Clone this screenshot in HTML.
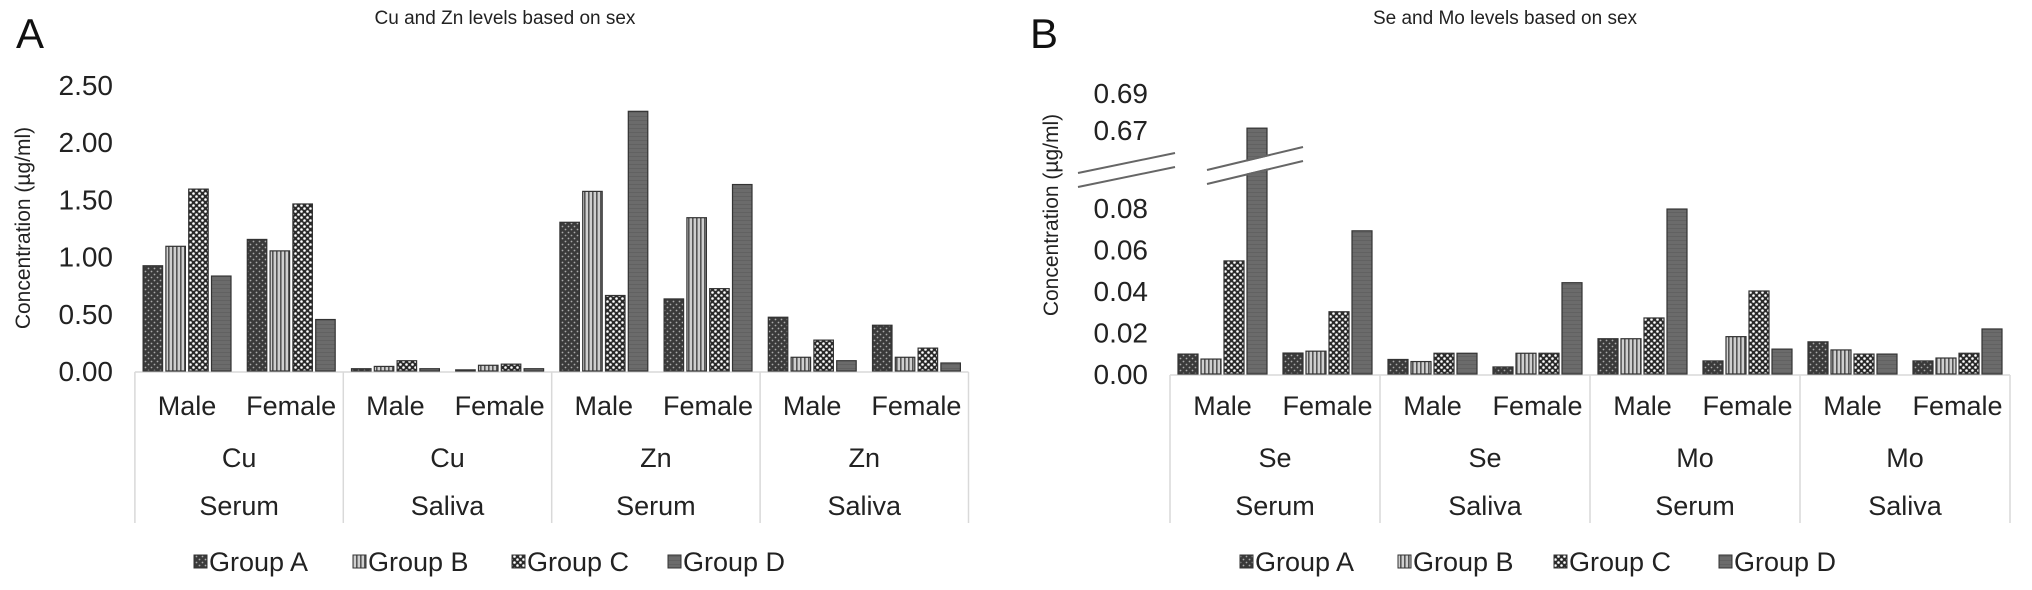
<!DOCTYPE html>
<html><head><meta charset="utf-8"><style>
html,body{margin:0;padding:0;background:#fff;}
svg{display:block;font-family:"Liberation Sans",Arial,sans-serif;}
</style></head><body>
<svg id="chart" width="2032" height="590" viewBox="0 0 2032 590" xmlns="http://www.w3.org/2000/svg">
<defs>
<pattern id="pA" width="6" height="6" patternUnits="userSpaceOnUse"><rect width="6" height="6" fill="#3a3a3a"/><circle cx="1.5" cy="1.5" r="0.9" fill="#aaa"/><circle cx="4.5" cy="4.5" r="0.9" fill="#aaa"/></pattern>
<pattern id="pB" width="4" height="4" patternUnits="userSpaceOnUse"><rect width="4" height="4" fill="#cfcfcf"/><rect width="1.6" height="4" fill="#555"/></pattern>
<pattern id="pC" width="6" height="6" patternUnits="userSpaceOnUse"><rect width="6" height="6" fill="#2a2a2a"/><circle cx="1.5" cy="1.5" r="1.3" fill="#fff"/><circle cx="4.5" cy="4.5" r="1.3" fill="#fff"/></pattern>
<pattern id="pD" width="4" height="4" patternUnits="userSpaceOnUse"><rect width="4" height="4" fill="#6b6b6b"/><rect width="4" height="0.6" fill="#5a5a5a"/></pattern>
</defs>
<g id="root"></g>
</svg>
<script>
// Panel A data
const groupsA = ["Group A","Group B","Group C","Group D"];
const sexA = ["Male","Female","Male","Female","Male","Female","Male","Female"];
const elemA = ["Cu","Cu","Zn","Zn"];
const fluidA = ["Serum","Saliva","Serum","Saliva"];
const ticksA = ["0.00","0.50","1.00","1.50","2.00","2.50"];
const tickValsA = [0,0.5,1,1.5,2,2.5];
const seriesA_A = [0.92,1.15,0.02,0.01,1.30,0.63,0.47,0.40];
const seriesA_B = [1.09,1.05,0.04,0.05,1.57,1.34,0.12,0.12];
const seriesA_C = [1.59,1.46,0.09,0.06,0.66,0.72,0.27,0.20];
const seriesA_D = [0.83,0.45,0.02,0.02,2.27,1.63,0.09,0.07];
// Panel B data
const sexB = ["Male","Female","Male","Female","Male","Female","Male","Female"];
const elemB = ["Se","Se","Mo","Mo"];
const fluidB = ["Serum","Saliva","Serum","Saliva"];
const ticksBLow = ["0.00","0.02","0.04","0.06","0.08"];
const tickValsBLow = [0,0.02,0.04,0.06,0.08];
const ticksBHigh = ["0.67","0.69"];
const tickValsBHigh = [0.67,0.69];
const seriesB_A = [0.0096,0.0101,0.007,0.0034,0.017,0.0063,0.0155,0.0063];
const seriesB_B = [0.0072,0.011,0.006,0.010,0.017,0.018,0.0116,0.0077];
const seriesB_C = [0.0545,0.030,0.010,0.010,0.027,0.040,0.0096,0.010];
const seriesB_D = [0.671,0.069,0.010,0.044,0.0795,0.012,0.0096,0.0217];

const NS="http://www.w3.org/2000/svg";
const root=document.getElementById('root');
function mk(tag,attrs,parent,text){const e=document.createElementNS(NS,tag);for(const k in attrs)e.setAttribute(k,attrs[k]);if(text!==undefined)e.textContent=text;(parent||root).appendChild(e);return e;}
const fills=["url(#pA)","url(#pB)","url(#pC)","url(#pD)"];
const FT=28, FL=27;

// ---------- Panel A ----------
const yA=v=>371-v*114.4;
const xA=i=>187+i*104.2;
const gA=mk('g',{});


let t=mk('text',{x:16,y:48,'font-size':42,fill:'#111'},gA,'A');

t=mk('text',{x:505,y:24,'font-size':19,'text-anchor':'middle',fill:'#222'},gA,'Cu and Zn levels based on sex');

t=mk('text',{x:0,y:0,'font-size':21,'text-anchor':'middle',fill:'#222',transform:'translate(30,228) rotate(-90)'},gA,'Concentration (µg/ml)');

tickValsA.forEach((v,i)=>{const e=mk('text',{x:113,y:yA(v)+10,'font-size':FT,'text-anchor':'end',fill:'#222'},gA,ticksA[i]);
});
const leftA=xA(0)-52.1, rightA=xA(7)+52.1;
mk('line',{x1:leftA,y1:372,x2:rightA,y2:372,stroke:'#d9d9d9','stroke-width':1.5},gA);
for(let k=0;k<=4;k++){const x=leftA+k*208.4;mk('line',{x1:x,y1:372,x2:x,y2:523,stroke:'#d9d9d9','stroke-width':1.5},gA);}
sexA.forEach((s,i)=>{const e=mk('text',{x:xA(i),y:415,'font-size':FL,'text-anchor':'middle',fill:'#222'},gA,s);});
elemA.forEach((s,k)=>{const e=mk('text',{x:leftA+104.2+k*208.4,y:467,'font-size':FL,'text-anchor':'middle',fill:'#222'},gA,s);});
fluidA.forEach((s,k)=>{const e=mk('text',{x:leftA+104.2+k*208.4,y:515,'font-size':FL,'text-anchor':'middle',fill:'#222'},gA,s);});
[seriesA_A,seriesA_B,seriesA_C,seriesA_D].forEach((ser,g)=>{ser.forEach((v,i)=>{
 const x=xA(i)+(g-1.5)*22.8-9.7;const y=yA(v);
 const r=mk('rect',{x:x,y:y,width:19.5,height:Math.max(371-y,1),fill:fills[g],stroke:'#333','stroke-width':1.2},gA);
 
 });});
const legAX=[194,353,512,668];
groupsA.forEach((gname,g)=>{const lg=mk('g',{},gA);
 
 
 mk('rect',{x:legAX[g],y:555,width:13,height:13,fill:fills[g],stroke:'#333','stroke-width':1},lg);
 mk('text',{x:legAX[g]+15,y:571,'font-size':FL,fill:'#222'},lg,gname);});

// ---------- Panel B ----------
const yB=v=>v<0.3?374-v*2075:130-(v-0.67)*1850;
const xB=i=>1222.5+i*105;
const gB=mk('g',{});


t=mk('text',{x:1030,y:48,'font-size':42,fill:'#111'},gB,'B');

t=mk('text',{x:1505,y:24,'font-size':19,'text-anchor':'middle',fill:'#222'},gB,'Se and Mo levels based on sex');

t=mk('text',{x:0,y:0,'font-size':21,'text-anchor':'middle',fill:'#222',transform:'translate(1058,215) rotate(-90)'},gB,'Concentration (µg/ml)');

tickValsBLow.forEach((v,i)=>{const e=mk('text',{x:1148,y:yB(v)+10,'font-size':FT,'text-anchor':'end',fill:'#222'},gB,ticksBLow[i]);});
tickValsBHigh.forEach((v,i)=>{const e=mk('text',{x:1148,y:yB(v)+10,'font-size':FT,'text-anchor':'end',fill:'#222'},gB,ticksBHigh[i]);});
const leftB=xB(0)-52.5, rightB=xB(7)+52.5;
mk('line',{x1:leftB,y1:375,x2:rightB,y2:375,stroke:'#d9d9d9','stroke-width':1.5},gB);
for(let k=0;k<=4;k++){const x=leftB+k*210;mk('line',{x1:x,y1:375,x2:x,y2:523,stroke:'#d9d9d9','stroke-width':1.5},gB);}
sexB.forEach((s,i)=>{const e=mk('text',{x:xB(i),y:415,'font-size':FL,'text-anchor':'middle',fill:'#222'},gB,s);});
elemB.forEach((s,k)=>{const e=mk('text',{x:leftB+105+k*210,y:467,'font-size':FL,'text-anchor':'middle',fill:'#222'},gB,s);});
fluidB.forEach((s,k)=>{const e=mk('text',{x:leftB+105+k*210,y:515,'font-size':FL,'text-anchor':'middle',fill:'#222'},gB,s);});
[seriesB_A,seriesB_B,seriesB_C,seriesB_D].forEach((ser,g)=>{ser.forEach((v,i)=>{
 const x=xB(i)+(g-1.5)*23-10;const y=yB(v);
 const r=mk('rect',{x:x,y:y,width:20,height:Math.max(374-y,1),fill:fills[g],stroke:'#333','stroke-width':1.2},gB);
 
 });});
const br=mk('g',{},gB);


mk('polygon',{points:'1078,174 1175,154 1175,166 1078,186',fill:'#fff'},br);
mk('polygon',{points:'1207,171 1303,148 1303,160 1207,183',fill:'#fff'},br);
mk('line',{x1:1078,y1:173,x2:1175,y2:153,stroke:'#666','stroke-width':2},br);
mk('line',{x1:1078,y1:187,x2:1175,y2:167,stroke:'#666','stroke-width':2},br);
mk('line',{x1:1207,y1:170,x2:1303,y2:147,stroke:'#666','stroke-width':2},br);
mk('line',{x1:1207,y1:184,x2:1303,y2:161,stroke:'#666','stroke-width':2},br);
const legBX=[1240,1398,1554,1719];
groupsA.forEach((gname,g)=>{const lg=mk('g',{},gB);
 
 
 mk('rect',{x:legBX[g],y:555,width:13,height:13,fill:fills[g],stroke:'#333','stroke-width':1},lg);
 mk('text',{x:legBX[g]+15,y:571,'font-size':FL,fill:'#222'},lg,gname);});
</script>
</body></html>
